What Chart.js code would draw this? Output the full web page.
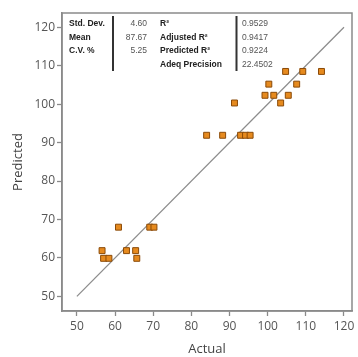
<!DOCTYPE html>
<html>
<head>
<meta charset="utf-8">
<script src="https://cdn.jsdelivr.net/npm/chart.js@4"></script>
<style>
  html, body { margin: 0; padding: 0; background: #fff; }
  #wrap { width: 358px; height: 357px; }
</style>
</head>
<body>
<div id="wrap"><canvas id="c" width="358" height="357"></canvas></div>
<script>
// data
const actual = [56.6, 57.0, 58.4, 60.9, 63.0, 65.4, 65.7, 69.1, 70.2,
  84.0, 88.2, 92.9, 94.2, 95.4, 91.3, 103.4, 99.3, 101.6, 105.4, 100.3, 107.6, 104.7, 109.2, 114.1];
const predicted = [61.9, 59.9, 59.9, 68.0, 61.9, 61.9, 59.9, 68.0, 68.0,
  91.9, 91.9, 91.9, 91.9, 91.9, 100.3, 100.3, 102.3, 102.3, 102.3, 105.2, 105.2, 108.5, 108.5, 108.5];
const fitLine = [50, 120];
const xTicks = [50, 60, 70, 80, 90, 100, 110, 120];
const yTicks = [50, 60, 70, 80, 90, 100, 110, 120];

const statLabels1 = ["Std. Dev.", "Mean", "C.V. %"];
const statValues1 = ["4.60", "87.67", "5.25"];
const statLabels2 = ["R²", "Adjusted R²", "Predicted R²", "Adeq Precision"];
const statValues2 = ["0.9529", "0.9417", "0.9224", "22.4502"];

const gray = "#555";
const frameCol = "#8a8a8a";

// box round the plot + the stats table
const extras = {
  id: "extras",
  afterDraw(chart) {
    const { ctx, chartArea: a } = chart;
    ctx.save();
    ctx.strokeStyle = frameCol;
    ctx.lineWidth = 1.5;
    ctx.strokeRect(a.left, a.top, a.right - a.left, a.bottom - a.top);

    const rows = [23.5, 37.3, 51, 64.7];
    ctx.textBaseline = "middle";
    ctx.font = "bold 8.5px 'Liberation Sans', Arial";
    ctx.fillStyle = "#222";
    statLabels1.forEach((t, i) => ctx.fillText(t, 69, rows[i]));
    statLabels2.forEach((t, i) => ctx.fillText(t, 160, rows[i]));
    ctx.font = "8.5px 'Liberation Sans', Arial";
    ctx.fillStyle = gray;
    ctx.textAlign = "right";
    statValues1.forEach((t, i) => ctx.fillText(t, 147, rows[i]));
    ctx.textAlign = "left";
    statValues2.forEach((t, i) => ctx.fillText(t, 242, rows[i]));

    ctx.strokeStyle = "#333";
    ctx.lineWidth = 2;
    ctx.beginPath();
    ctx.moveTo(113, 16); ctx.lineTo(113, 71);
    ctx.moveTo(236.5, 16); ctx.lineTo(236.5, 71);
    ctx.stroke();
    ctx.restore();
  }
};

new Chart(document.getElementById("c"), {
  type: "scatter",
  data: {
    datasets: [
      {
        data: fitLine.map(v => ({ x: v, y: v })),
        showLine: true,
        borderColor: "#8c8c8c",
        borderWidth: 1.3,
        pointRadius: 0,
        order: 2
      },
      {
        data: actual.map((v, i) => ({ x: v, y: predicted[i] })),
        pointStyle: "rect",
        pointRadius: 4.2,
        backgroundColor: "#e68a1e",
        borderColor: "#8a4a08",
        borderWidth: 1,
        order: 1
      }
    ]
  },
  options: {
    responsive: false,
    animation: false,
    layout: { padding: { top: 13, right: 6, left: 0, bottom: 0 } },
    plugins: { legend: { display: false }, tooltip: { enabled: false } },
    scales: {
      x: {
        type: "linear",
        min: 46.1,
        max: 122.1,
        afterBuildTicks: s => { s.ticks = xTicks.map(v => ({ value: v })); },
        afterFit: s => { s.height = 46; },
        grid: { drawOnChartArea: false, tickLength: 5, tickColor: frameCol, tickWidth: 1.3 },
        border: { color: frameCol, width: 1.5 },
        ticks: { color: gray, padding: 3, font: { family: "'Open Sans'", size: 12 } },
        title: { display: true, text: "Actual", color: "#444", padding: { top: 0, bottom: 0 }, font: { family: "'Open Sans'", size: 13 } }
      },
      y: {
        type: "linear",
        min: 46.2,
        max: 123.7,
        afterBuildTicks: s => { s.ticks = yTicks.map(v => ({ value: v })); },
        afterFit: s => { s.width = 62; },
        grid: { drawOnChartArea: false, tickLength: 5, tickColor: frameCol, tickWidth: 1.3 },
        border: { color: frameCol, width: 1.5 },
        ticks: { color: gray, padding: 2, font: { family: "'Open Sans'", size: 12 } },
        title: { display: true, text: "Predicted", color: "#444", padding: { top: 10, bottom: 0 }, font: { family: "'Open Sans'", size: 13 } }
      }
    }
  },
  plugins: [extras]
});
</script>
</body>
</html>
